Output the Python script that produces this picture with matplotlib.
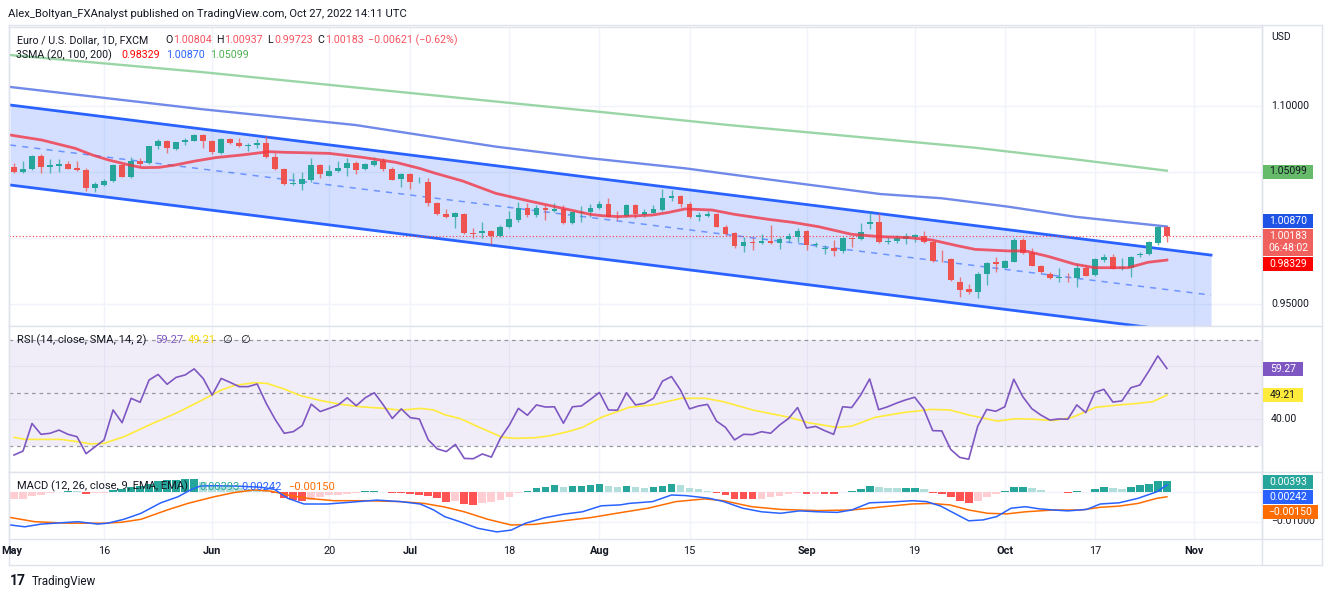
"""
EUR/USD daily snapshot as published on TradingView (Oct 27, 2022):
candles inside a descending channel with three SMAs, an RSI pane and a
MACD pane. Everything is laid out in screen pixels of the original
1332x597 screenshot. Writes out.png.
"""
import matplotlib
matplotlib.use("Agg")
import matplotlib.pyplot as plt
import matplotlib.transforms as mtransforms
from matplotlib.patches import Rectangle
import numpy as np
import pandas as pd

plt.rcParams["font.family"] = ["Roboto", "DejaVu Sans"]

W, H = 1332, 597
TXT = "#131722"
GRID = "#f0f3fa"
SEP = "#e0e3eb"
UP, DOWN = "#26a69a", "#ef5350"

# ---- daily bars, May 2 .. Oct 27 2022 (FXCM) ----
OPEN = [1.0540, 1.0503, 1.0520, 1.0621, 1.0540, 1.0545, 1.0561, 1.0530, 1.0515, 1.0381,
        1.0401, 1.0432, 1.0550, 1.0462, 1.0583, 1.0566, 1.0694, 1.0735, 1.0674, 1.0727,
        1.0737, 1.0778, 1.0735, 1.0646, 1.0750, 1.0720, 1.0699, 1.0702, 1.0722, 1.0616,
        1.0520, 1.0409, 1.0409, 1.0439, 1.0550, 1.0472, 1.0508, 1.0530, 1.0566, 1.0520,
        1.0553, 1.0583, 1.0525, 1.0444, 1.0487, 1.0422, 1.0422, 1.0265, 1.0182, 1.0157,
        1.0179, 1.0038, 1.0035, 1.0053, 1.0015, 1.0081, 1.0134, 1.0225, 1.0174, 1.0225,
        1.0207, 1.0220, 1.0111, 1.0192, 1.0194, 1.0225, 1.0258, 1.0169, 1.0167, 1.0250,
        1.0174, 1.0189, 1.0212, 1.0301, 1.0321, 1.0258, 1.0157, 1.0169, 1.0182, 1.0086,
        1.0040, 0.9942, 0.9972, 0.9965, 0.9980, 0.9965, 0.9990, 1.0010, 1.0053, 0.9947,
        0.9919, 0.9927, 0.9902, 1.0003, 0.9992, 1.0104, 1.0119, 0.9967, 0.9977, 0.9992,
        1.0010, 1.0018, 0.9972, 0.9836, 0.9838, 0.9664, 0.9611, 0.9594, 0.9730, 0.9821,
        0.9775, 0.9821, 0.9985, 0.9884, 0.9790, 0.9730, 0.9697, 0.9707, 0.9700, 0.9775,
        0.9720, 0.9831, 0.9854, 0.9770, 0.9770, 0.9871, 0.9876, 0.9960, 1.00804]
HIGH = [1.0571, 1.0583, 1.0629, 1.0634, 1.0596, 1.0596, 1.0586, 1.0583, 1.0533, 1.0422,
        1.0444, 1.0563, 1.0561, 1.0611, 1.0604, 1.0699, 1.0747, 1.0745, 1.0730, 1.0755,
        1.0785, 1.0785, 1.0742, 1.0755, 1.0757, 1.0755, 1.0722, 1.0747, 1.0773, 1.0644,
        1.0528, 1.0490, 1.0503, 1.0604, 1.0558, 1.0553, 1.0583, 1.0609, 1.0586, 1.0571,
        1.0616, 1.0604, 1.0538, 1.0492, 1.0490, 1.0465, 1.0452, 1.0270, 1.0220, 1.0194,
        1.0187, 1.0073, 1.0124, 1.0058, 1.0099, 1.0205, 1.0270, 1.0263, 1.0250, 1.0250,
        1.0263, 1.0250, 1.0205, 1.0242, 1.0255, 1.0280, 1.0301, 1.0205, 1.0255, 1.0255,
        1.0220, 1.0250, 1.0371, 1.0364, 1.0326, 1.0270, 1.0194, 1.0205, 1.0187, 1.0099,
        1.0048, 1.0010, 1.0003, 1.0030, 1.0099, 1.0010, 1.0035, 1.0073, 1.0058, 0.9972,
        0.9947, 0.9985, 1.0008, 1.0010, 1.0111, 1.0194, 1.0187, 1.0010, 1.0023, 1.0035,
        1.0028, 1.0053, 0.9977, 0.9909, 0.9851, 0.9707, 0.9649, 0.9745, 0.9821, 0.9858,
        0.9833, 0.9998, 0.9998, 0.9922, 0.9795, 0.9745, 0.9775, 0.9737, 0.9808, 0.9795,
        0.9846, 0.9876, 0.9876, 0.9846, 0.9864, 0.9896, 0.9977, 1.0093, 1.00937]
LOW = [1.0495, 1.0495, 1.0515, 1.0495, 1.0490, 1.0503, 1.0523, 1.0510, 1.0359, 1.0351,
       1.0396, 1.0427, 1.0460, 1.0457, 1.0545, 1.0561, 1.0672, 1.0646, 1.0669, 1.0704,
       1.0735, 1.0684, 1.0634, 1.0636, 1.0715, 1.0692, 1.0659, 1.0679, 1.0609, 1.0515,
       1.0401, 1.0401, 1.0364, 1.0427, 1.0452, 1.0470, 1.0503, 1.0472, 1.0482, 1.0515,
       1.0548, 1.0508, 1.0437, 1.0384, 1.0369, 1.0417, 1.0242, 1.0174, 1.0149, 1.0073,
       1.0033, 0.9998, 0.9998, 0.9955, 1.0010, 1.0078, 1.0124, 1.0157, 1.0162, 1.0136,
       1.0200, 1.0106, 1.0104, 1.0119, 1.0162, 1.0217, 1.0157, 1.0136, 1.0162, 1.0149,
       1.0162, 1.0187, 1.0207, 1.0280, 1.0237, 1.0154, 1.0129, 1.0162, 1.0081, 1.0023,
       0.9927, 0.9896, 0.9909, 0.9952, 0.9955, 0.9917, 0.9967, 0.9972, 0.9909, 0.9934,
       0.9876, 0.9866, 0.9884, 0.9934, 0.9985, 1.0068, 0.9965, 0.9957, 0.9960, 0.9952,
       0.9967, 0.9960, 0.9816, 0.9816, 0.9674, 0.9556, 0.9573, 0.9543, 0.9644, 0.9745,
       0.9770, 0.9816, 0.9879, 0.9785, 0.9732, 0.9689, 0.9669, 0.9669, 0.9631, 0.9712,
       0.9715, 0.9821, 0.9763, 0.9758, 0.9707, 0.9859, 0.9871, 0.9947, 0.99723]
CLOSE = [1.0503, 1.0523, 1.0621, 1.0540, 1.0550, 1.0558, 1.0525, 1.0515, 1.0381, 1.0409,
         1.0432, 1.0550, 1.0465, 1.0586, 1.0558, 1.0694, 1.0735, 1.0679, 1.0725, 1.0742,
         1.0778, 1.0732, 1.0649, 1.0747, 1.0720, 1.0697, 1.0707, 1.0722, 1.0616, 1.0520,
         1.0407, 1.0417, 1.0447, 1.0550, 1.0487, 1.0510, 1.0533, 1.0566, 1.0518, 1.0561,
         1.0586, 1.0520, 1.0442, 1.0487, 1.0427, 1.0424, 1.0265, 1.0179, 1.0157, 1.0187,
         1.0035, 1.0033, 1.0051, 1.0015, 1.0086, 1.0141, 1.0225, 1.0174, 1.0225, 1.0212,
         1.0222, 1.0111, 1.0194, 1.0199, 1.0225, 1.0258, 1.0162, 1.0164, 1.0250, 1.0179,
         1.0194, 1.0217, 1.0301, 1.0321, 1.0255, 1.0157, 1.0174, 1.0182, 1.0086, 1.0033,
         0.9939, 0.9972, 0.9965, 0.9980, 0.9962, 0.9992, 1.0018, 1.0053, 0.9947, 0.9955,
         0.9927, 0.9902, 1.0003, 0.9990, 1.0043, 1.0121, 0.9967, 0.9980, 0.9998, 1.0013,
         1.0023, 0.9967, 0.9828, 0.9831, 0.9682, 0.9606, 0.9594, 0.9730, 0.9813, 0.9801,
         0.9826, 0.9985, 0.9884, 0.9790, 0.9740, 0.9694, 0.9705, 0.9702, 0.9775, 0.9715,
         0.9838, 0.9854, 0.9765, 0.9778, 0.9859, 0.9879, 0.9967, 1.0083, 1.00183]

# ---- moving averages (at sample bars) ----
SMA20_X = [-0.4, 3.1, 6.8, 8.7, 10.5, 12.8, 14.2, 16.1, 17.9, 20.1, 22.4, 25.3, 28.3,
           30.1, 32.2, 35.0, 38.7, 42.4, 45.0, 46.8, 49.8, 53.5, 57.2, 60.9, 64.0,
           65.3, 67.1, 70.9, 72.7, 74.5, 77.5, 80.0, 83.8, 86.4, 89.3, 93.0, 96.2,
           99.3, 101.9, 104.9, 106.7, 110.4, 112.3, 114.9, 117.8, 120.0, 123.7, 125.9, 128]
SMA20 = [1.0780, 1.0742, 1.0679, 1.0629, 1.0591, 1.0553, 1.0533, 1.0535, 1.0553, 1.0583,
         1.0609, 1.0629, 1.0654, 1.0649, 1.0646, 1.0641, 1.0611, 1.0573, 1.0528, 1.0490,
         1.0432, 1.0338, 1.0280, 1.0225, 1.0179, 1.0169, 1.0162, 1.0174, 1.0194, 1.0220,
         1.0212, 1.0179, 1.0141, 1.0119, 1.0086, 1.0028, 1.0010, 1.0003, 0.9985, 0.9939,
         0.9914, 0.9902, 0.9902, 0.9859, 0.9801, 0.9775, 0.9775, 0.9816, 0.98329]
SMA100_X = [-0.4, 20.7, 37.9, 53.5, 64.0, 74.5, 85.6, 96.2, 103.0, 110.4, 117.8, 128]
SMA100 = [1.1144, 1.0977, 1.0856, 1.0692, 1.0604, 1.0528, 1.0427, 1.0333, 1.0301,
          1.0237, 1.0161, 1.00870]
SMA200_X = [-0.4, 20.7, 42.9, 65.1, 79.3, 96.2, 106.7, 117.8, 128]
SMA200 = [1.1386, 1.1258, 1.1106, 1.0955, 1.0856, 1.0750, 1.0684, 1.0596, 1.05099]

# ---- drawn channel (two anchor bars) ----
CH_X = [-0.44, 132.9]
CH_UPPER = [1.10076, 0.98705]
CH_MID = [1.07045, 0.95674]
CH_LOWER = [1.04015, 0.92644]

# ---- RSI(14) per bar and its SMA(14) ----
RSI = [26.6, 28.1, 38.5, 34.4, 34.8, 36.0, 34.4, 33.5, 27.1, 29.7,
       32.3, 43.6, 38.8, 48.0, 46.5, 54.9, 57.0, 53.3, 55.9, 56.8,
       59.1, 55.5, 49.2, 55.5, 54.0, 52.4, 52.4, 53.4, 46.1, 40.0,
       34.8, 35.4, 37.7, 45.8, 43.0, 44.2, 45.5, 48.2, 45.2, 48.2,
       50.1, 45.5, 40.4, 44.0, 40.7, 40.2, 32.3, 28.9, 27.9, 30.6,
       25.3, 25.2, 27.0, 25.8, 32.9, 37.9, 44.2, 41.6, 45.5, 44.7,
       44.8, 38.6, 44.8, 45.1, 47.6, 50.2, 43.6, 43.5, 50.1, 45.5,
       46.1, 48.0, 54.5, 56.2, 51.1, 44.0, 45.1, 45.7, 39.4, 37.0,
       32.3, 34.4, 34.3, 35.4, 34.8, 37.9, 40.4, 44.5, 36.8, 37.4,
       35.8, 34.4, 44.8, 44.5, 49.2, 55.3, 43.7, 44.8, 46.2, 47.4,
       48.4, 44.0, 35.8, 35.7, 28.7, 25.7, 25.0, 37.5, 43.8, 43.1,
       44.8, 55.2, 48.6, 44.1, 41.7, 39.8, 40.2, 40.1, 45.5, 42.6,
       50.2, 51.4, 46.6, 47.0, 52.0, 53.0, 58.3, 64.0, 59.27]
RSI_MA_X = [0, 1.2, 5.2, 7.1, 8.5, 10.0, 12.2, 15.2, 18.2, 20.7, 23.0, 24.4, 26.7, 28.1,
            30.0, 31.8, 34.0, 36.3, 38.5, 41.1, 42.9, 45.1, 46.6, 47.9, 49.5, 51.5, 54.2,
            55.7, 57.8, 59.4, 61.5, 63.1, 65.2, 68.3, 70.9, 74.1, 76.7, 78.8, 82.0, 86.1,
            88.2, 91.4, 93.0, 95.6, 98.7, 101.8, 103.9, 106.0, 109.2, 111.2, 113.3,
            115.4, 117.5, 120.1, 122.7, 124.8, 126.4, 128]
RSI_MA = [33.3, 32.5, 32.5, 31.6, 30.8, 31.0, 33.5, 38.2, 42.7, 47.0, 51.1, 52.8, 53.9,
          53.6, 51.5, 49.0, 47.2, 45.7, 44.8, 44.2, 43.5, 44.2, 43.6, 41.7, 40.4, 37.3,
          33.3, 32.9, 33.1, 33.8, 35.4, 37.0, 40.8, 44.6, 45.5, 48.0, 48.0, 46.7, 43.6,
          40.8, 38.8, 37.0, 37.5, 40.8, 42.6, 43.8, 43.6, 41.7, 39.4, 40.3, 40.1, 39.6,
          40.8, 44.6, 45.5, 46.1, 46.7, 49.21]

# ---- MACD(12, 26, 9), values in units of 0.001 ----
MACD_X = [-0.4, 1.2, 3.0, 7.1, 9.3, 10.4, 12.2, 14.1, 16.3, 18.2, 19.6, 20.7, 22.2,
          24.4, 27.4, 28.9, 30.4, 32.2, 34.8, 37.4, 40.3, 42.9, 45.1, 46.6, 47.8,
          49.5, 51.5, 53.6, 55.2, 56.8, 58.9, 61.0, 63.1, 65.2, 67.3, 68.3, 70.9,
          73.0, 74.6, 77.2, 78.8, 80.9, 83.0, 85.1, 87.2, 89.3, 91.4, 93.0, 95.0,
          97.6, 99.7, 101.3, 102.9, 104.4, 106.0, 107.6, 109.1, 110.7, 112.3, 113.8,
          115.4, 117.0, 119.1, 120.6, 122.7, 124.8, 126.9, 128]
MACD = [-10.9, -11.5, -10.6, -9.8, -10.6, -10.3, -9.0, -7.0, -3.5, -1.5, 0.8, 2.1, 2.2,
        2.1, 1.7, 1.0, -2.0, -3.9, -3.9, -3.3, -2.6, -3.1, -3.9, -5.9, -8.1,
        -9.8, -12.0, -13.2, -12.6, -10.3, -8.5, -7.3, -6.5, -4.5, -4.2, -3.7, -3.1,
        -0.9, -1.1, -2.0, -3.1, -5.3, -6.5, -7.0, -6.2, -6.5, -6.7, -5.9, -3.5,
        -3.2, -2.8, -3.1, -4.6, -7.0, -9.5, -9.2, -8.1, -5.3, -4.8, -5.5,
        -5.9, -6.2, -5.7, -3.9, -3.5, -2.0, 0.2, 2.42]
SIGNAL_X = [-0.4, 2.3, 6.0, 10.0, 11.9, 14.1, 17.0, 19.3, 22.2, 24.4, 26.7, 28.5, 30.4,
            32.6, 35.5, 39.2, 42.9, 45.5, 47.8, 50.0, 52.6, 55.2, 57.8, 61.0, 64.1,
            67.3, 70.4, 73.5, 76.7, 78.8, 81.9, 85.1, 89.3, 93.0, 96.6, 99.7, 101.8,
            103.9, 106.0, 108.1, 110.2, 112.3, 115.4, 118.5, 120.6, 122.7, 124.8, 126.9, 128]
SIGNAL = [-8.4, -9.8, -10.3, -10.3, -10.0, -9.0, -5.9, -3.7, -1.5, -0.1, 0.8, 0.4, -0.9,
          -2.0, -2.8, -2.8, -3.1, -3.7, -4.9, -6.5, -9.0, -10.9, -10.7, -9.5, -8.4,
          -6.8, -5.3, -3.1, -2.2, -2.8, -4.8, -5.7, -6.1, -5.9, -4.8, -3.9, -3.7,
          -4.2, -5.9, -7.0, -7.2, -6.5, -5.9, -5.9, -5.0, -4.6, -3.7, -2.0, -1.50]
HIST = [-2.3, -2.2, -1.1, -0.8, -0.3, 0.2, 0.5, 0.3, -0.4, -0.3,
        -0.1, 0.7, 1.0, 1.8, 2.2, 2.9, 3.8, 4.0, 4.2, 4.4,
        4.5, 3.6, 2.6, 2.3, 2.0, 1.4, 1.1, 0.7, 0.4, -0.3,
        -2.0, -2.5, -2.8, -2.4, -1.5, -1.0, -0.8, -0.5, -0.2, 0.3,
        0.4, 0.1, -0.1, -0.2, -0.6, -0.8, -1.2, -2.0, -3.1, -3.0,
        -3.9, -4.2, -3.7, -3.1, -2.6, -1.4, -0.3, 0.6, 1.3, 1.9,
        2.4, 1.9, 2.0, 2.1, 2.4, 2.7, 2.1, 1.9, 2.1, 1.7,
        1.6, 1.9, 2.2, 2.7, 2.3, 1.3, 1.0, 0.6, -0.3, -1.0,
        -2.1, -2.2, -2.25, -2.1, -1.7, -1.2, -0.7, -0.2, -0.6, -0.4,
        -0.6, -0.7, 0.1, 0.4, 1.0, 2.1, 1.7, 1.5, 1.4, 1.45,
        1.5, 1.2, -0.2, -0.7, -1.4, -2.8, -3.7, -2.8, -1.7, -0.7,
        0.3, 1.7, 1.9, 1.3, 0.8, 0.2, 0.1, -0.3, 0.3, 0.2,
        1.1, 1.7, 1.3, 1.25, 1.9, 2.4, 2.9, 3.9, 3.93]

# time-axis labels: (date, text, bold)
XLABELS = [("2022-05-16", "16", False), ("2022-06-01", "Jun", True),
           ("2022-06-20", "20", False), ("2022-07-01", "Jul", True),
           ("2022-07-18", "18", False), ("2022-08-01", "Aug", True),
           ("2022-08-15", "15", False), ("2022-09-01", "Sep", True),
           ("2022-09-19", "19", False), ("2022-10-03", "Oct", True),
           ("2022-10-17", "17", False), ("2022-11-01", "Nov", True)]


def fx(px):
    return px / W


def fy(py):
    return 1 - py / H


def pane(fig, top, bottom):
    ax = fig.add_axes([fx(9), fy(bottom), (1262 - 9) / W, (bottom - top) / H])
    ax.set_xlim(-0.555, 138.56)
    ax.set_xticks([])
    ax.set_yticks([])
    for s in ax.spines.values():
        s.set_color(SEP)
        s.set_linewidth(1)
    return ax


def tag(fig, y, text, bg, fg="white", w=50, h=14):
    fig.patches.append(Rectangle((fx(1263), fy(y + h / 2)), w / W, h / H,
                                 transform=fig.transFigure, facecolor=bg,
                                 edgecolor="none", zorder=5))
    fig.text(fx(1263 + w / 2), fy(y), text, color=fg, fontsize=7.5,
             ha="center", va="center", zorder=6)


def segments(fig, y, parts, size=7.7):
    for x, s, c in parts:
        fig.text(fx(x), fy(y), s, color=c, fontsize=size, ha="left", va="center")


def main():
    fig = plt.figure(figsize=(W / 100, H / 100), dpi=100)
    fig.patch.set_facecolor("white")

    dates = pd.bdate_range("2022-05-02", periods=150)
    grid_x = [dates.get_loc(pd.Timestamp(d)) for d, _, _ in XLABELS]

    # ---------------- price pane ----------------
    ax = pane(fig, 27, 326)
    ax.set_ylim(0.93333, 1.15985)
    for p in (0.95, 1.00, 1.05, 1.10):
        ax.axhline(p, color=GRID, lw=1, zorder=0)
    for gx in grid_x:
        ax.axvline(gx, color=GRID, lw=1, zorder=0)

    ax.fill_between(CH_X, CH_LOWER, CH_UPPER, color="#2962ff", alpha=0.2, lw=0, zorder=1)
    ax.plot(CH_X, CH_UPPER, color="#2962ff", lw=2, zorder=2)
    ax.plot(CH_X, CH_LOWER, color="#2962ff", lw=2, zorder=2)
    ax.plot(CH_X, CH_MID, color="#2962ff", lw=1.1, alpha=0.6, ls=(0, (4, 4)), zorder=2)

    ax.plot(SMA200_X, SMA200, color="#9ad5a6", lw=1.7, zorder=3)
    ax.plot(SMA100_X, SMA100, color="#7189e8", lw=1.7, zorder=3)

    o, h, l, c = (np.array(v) for v in (OPEN, HIGH, LOW, CLOSE))
    x = np.arange(len(c))
    col = np.where(c >= o, UP, DOWN)
    ax.vlines(x, l, h, colors=col, lw=1, alpha=0.75, zorder=4)
    ax.bar(x, np.maximum(np.abs(c - o), 0.00012), bottom=np.minimum(o, c),
           width=0.64, color=col, lw=0, zorder=4)

    ax.plot(SMA20_X, SMA20, color="#f23645", lw=2, alpha=0.8, zorder=5)
    ax.axhline(c[-1], color="#f23645", lw=0.8, ls=(0, (1, 2)), zorder=3)

    # ---------------- RSI pane ----------------
    ar = pane(fig, 326, 472)
    ar.set_ylim(20.19, 75.28)
    for g in (40, 60):
        ar.axhline(g, color=GRID, lw=1, zorder=0)
    for gx in grid_x:
        ar.axvline(gx, color=GRID, lw=1, zorder=0)
    ar.axhspan(30, 70, color="#7e57c2", alpha=0.1, lw=0, zorder=1)
    for lvl in (70, 50, 30):
        ar.axhline(lvl, color="#9598a1", lw=0.9, ls=(0, (3, 3)), zorder=2)
    ar.plot(RSI_MA_X, RSI_MA, color="#ffeb3b", lw=1.2, zorder=3)
    ar.plot(x, RSI, color="#7e57c2", lw=1.2, zorder=4)

    # ---------------- MACD pane ----------------
    am = pane(fig, 472, 539)
    am.set_ylim(-15.57, 6.77)
    for g in (0, -10):
        am.axhline(g, color=GRID, lw=1, zorder=0)
    for gx in grid_x:
        am.axvline(gx, color=GRID, lw=1, zorder=0)
    hist = np.array(HIST)
    prev = np.concatenate([[hist[0]], hist[:-1]])
    hcol = np.where(hist >= 0,
                    np.where(hist >= prev, "#26a69a", "#b2dfdb"),
                    np.where(hist < prev, "#ff5252", "#ffcdd2"))
    am.bar(x, hist, width=0.86, color=hcol, lw=0, zorder=2)
    am.plot(SIGNAL_X, SIGNAL, color="#ff6d00", lw=1.1, zorder=3)
    am.plot(MACD_X, MACD, color="#2962ff", lw=1.1, zorder=4)

    # ---------------- frame lines ----------------
    def fline(x0, y0, x1, y1):
        fig.add_artist(plt.Line2D([fx(x0), fx(x1)], [fy(y0), fy(y1)],
                                  color=SEP, lw=1, transform=fig.transFigure))
    fline(9, 25, 1322, 25)
    fline(9, 565, 1322, 565)
    fline(1262, 25, 1262, 565)
    fline(1322, 25, 1322, 565)
    fline(9, 25, 9, 565)
    for yy in (326, 472, 539):
        fline(1262, yy, 1322, yy)

    # ---------------- time axis ----------------
    tr = mtransforms.blended_transform_factory(am.transData, fig.transFigure)
    for gx, (_, s, bold) in zip(grid_x, XLABELS):
        am.text(gx, fy(551), s, transform=tr, ha="center", va="center", fontsize=7.8,
                color=TXT, fontweight="bold" if bold else "normal", clip_on=False)
    fig.text(fx(1), fy(551), "May", ha="left", va="center", fontsize=7.8,
             color=TXT, fontweight="bold")

    # ---------------- right scale ----------------
    fig.text(fx(1271), fy(37), "USD", fontsize=7.5, color=TXT, va="center")
    for yy, s in ((106, "1.10000"), (304, "0.95000"), (419.5, "40.00"), (521, "\u22120.01000")):
        fig.text(fx(1271), fy(yy), s, fontsize=7.5, color=TXT, va="center")
    tag(fig, 171.5, "1.05099", "#66bb6a", TXT)
    tag(fig, 220.5, "1.00870", "#1e53e5")
    tag(fig, 242, "1.00183\n06:48:02", "#f0605d", h=27)
    tag(fig, 264, "0.98329", "#ff0000")
    tag(fig, 368.5, "59.27", "#7e57c2", w=40)
    tag(fig, 394.5, "49.21", "#ffeb3b", TXT, w=40)
    tag(fig, 481.7, "0.00393", "#26a69a")
    tag(fig, 496.7, "0.00242", "#2962ff")
    tag(fig, 511.7, "\u22120.00150", "#ff6d00", w=55)

    # ---------------- legends / header ----------------
    fig.text(fx(8), fy(14), "Alex_Boltyan_FXAnalyst published on TradingView.com, "
             "Oct 27, 2022 14:11 UTC", fontsize=8.1, color=TXT, va="center")
    red = "#f7525f"
    segments(fig, 40, [(16.7, "Euro / U.S. Dollar, 1D, FXCM", TXT),
                       (165.5, "O", TXT), (173, "1.00804", red),
                       (216.5, "H", TXT), (224, "1.00937", red),
                       (267.5, "L", TXT), (274, "0.99723", red),
                       (317.5, "C", TXT), (325, "1.00183", red),
                       (368, "\u22120.00621 (\u22120.62%)", red)])
    segments(fig, 55, [(16, "3SMA (20, 100, 200)", TXT), (121, "0.98329", "#ff0000"),
                       (166, "1.00870", "#2962ff"), (210, "1.05099", "#4caf50")])
    segments(fig, 340, [(16.7, "RSI (14, close, SMA, 14, 2)", TXT),
                        (155, "59.27", "#7e57c2"), (188, "49.21", "#f5d90a"),
                        (222, "\u2205", TXT), (240, "\u2205", TXT)], size=8.1)
    segments(fig, 486.7, [(16.7, "MACD (12, 26, close, 9, EMA, EMA)", TXT),
                          (199, "0.00393", "#26a69a"), (241, "0.00242", "#2962ff"),
                          (288, "\u22120.00150", "#ff6d00")], size=8.0)

    fig.text(fx(10), fy(581), "17", fontsize=10, fontweight="bold", color=TXT, va="center")
    fig.text(fx(32), fy(581), "TradingView", fontsize=8.4, color=TXT, va="center")

    fig.savefig("out.png", dpi=100)
    plt.close(fig)


if __name__ == "__main__":
    main()
